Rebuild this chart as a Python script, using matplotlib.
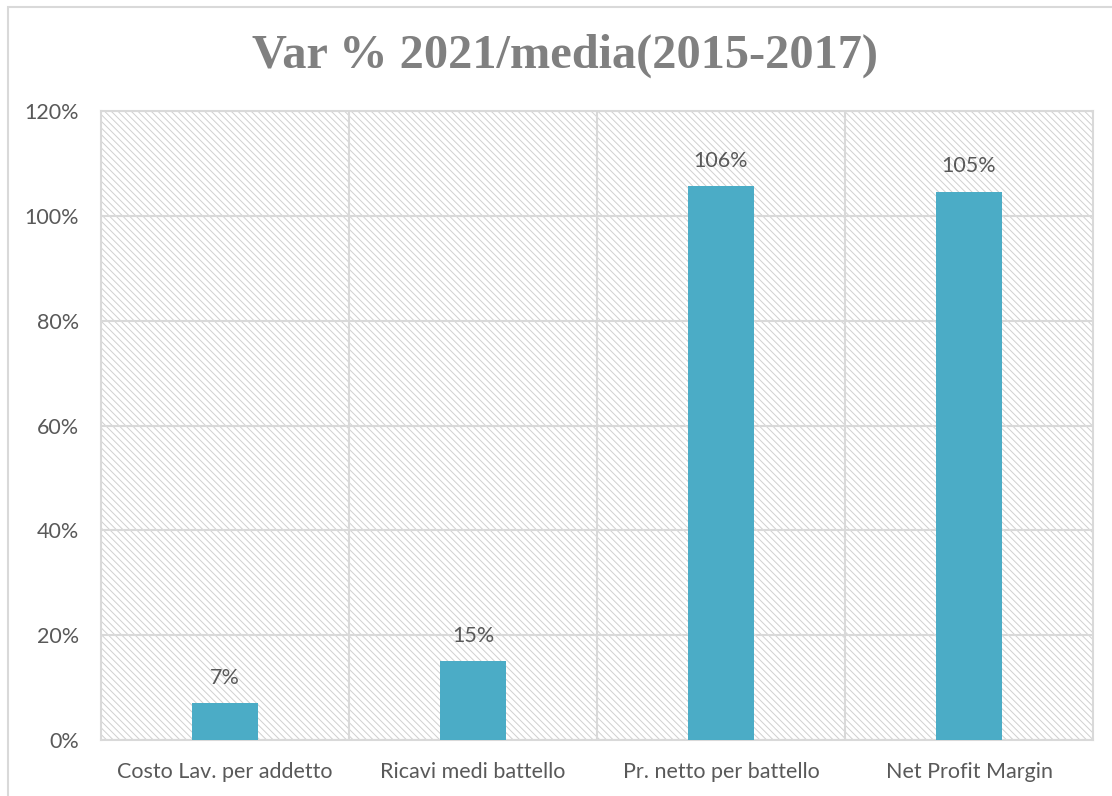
"""Var % 2021 vs media 2015-2017 bar chart."""

import matplotlib
matplotlib.use("Agg")
import matplotlib.pyplot as plt
from matplotlib.patches import Rectangle
from matplotlib.ticker import FuncFormatter

categories = [
    "Costo Lav. per addetto",
    "Ricavi medi battello",
    "Pr. netto per battello",
    "Net Profit Margin",
]
values = [0.0705, 0.1505, 1.057, 1.046]
title = "Var % 2021/media(2015-2017)"

BAR_COLOR = "#4BACC6"
GRID = "#D9D9D9"
TEXT = "#595959"

plt.rcParams["font.family"] = ["Lato", "DejaVu Sans"]
plt.rcParams["hatch.linewidth"] = 0.7
plt.rcParams["hatch.color"] = "#D0D0D0"

fig = plt.figure(figsize=(11.12, 7.96), dpi=100)
ax = fig.add_axes([101 / 1112, 56 / 796, 992 / 1112, 629 / 796])

# hatched plot background
ax.add_patch(Rectangle((0, 0), 1, 1, transform=ax.transAxes, facecolor="white",
                       edgecolor="#D0D0D0", hatch="\\\\\\\\\\", linewidth=0, zorder=0))

x = range(len(categories))
ax.bar(x, values, width=0.27, color=BAR_COLOR, zorder=3)
for xi, v in zip(x, values):
    ax.annotate(f"{round(v * 100):.0f}%", (xi, v), xytext=(0, 11), textcoords="offset points",
                ha="center", va="bottom", fontsize=15.5, color=TEXT, zorder=4)

ax.set_xlim(-0.5, len(categories) - 0.5)
ax.set_ylim(0, 1.2)
ax.set_yticks([0, 0.2, 0.4, 0.6, 0.8, 1.0, 1.2])
ax.yaxis.set_major_formatter(FuncFormatter(lambda v, _: f"{v * 100:.0f}%"))
ax.set_xticks(list(x))
ax.set_xticklabels(categories)
ax.tick_params(axis="both", length=0, labelsize=15.5, labelcolor=TEXT)
ax.tick_params(axis="y", pad=16)
ax.tick_params(axis="x", pad=16)

ax.set_axisbelow(True)
ax.yaxis.grid(True, color=GRID, linewidth=1.5, zorder=1)
for b in [0.5, 1.5, 2.5]:
    ax.axvline(b, color=GRID, linewidth=1.5, zorder=1)
for s in ax.spines.values():
    s.set_color(GRID)
    s.set_linewidth(1.5)

fig.text(565 / 1112, 1 - 56 / 796, title, ha="center", va="center",
         fontsize=34.8, fontweight="bold", color="#808080", family="Liberation Serif")

# outer chart frame (cut off on right and bottom)
fig.add_artist(Rectangle((8 / 1112, -0.1), 1.2, 1 - 7 / 796 + 0.1, transform=fig.transFigure,
                         fill=False, edgecolor=GRID, linewidth=1.5))

fig.savefig("out.png", dpi=100, facecolor="white")
